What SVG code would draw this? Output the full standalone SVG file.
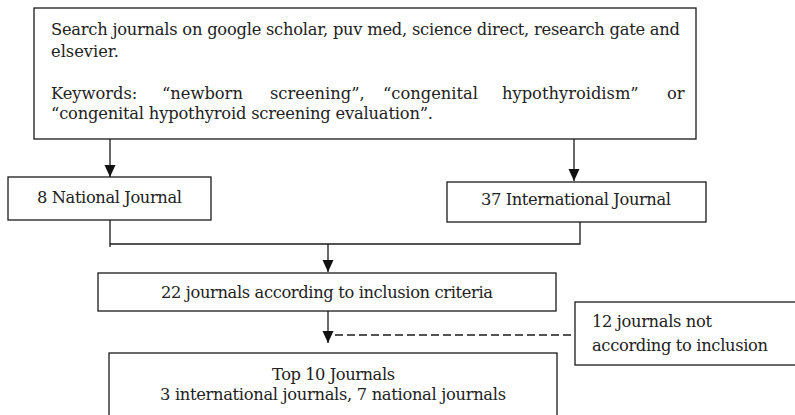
<svg xmlns="http://www.w3.org/2000/svg" width="795" height="415" viewBox="0 0 795 415">
<defs>
<style>
.box{fill:#fff;stroke:#1a1a1a;stroke-width:1.3}
.t{font-family:"DejaVu Serif","Liberation Serif",serif;font-size:16.3px;fill:#222}
.c{text-anchor:middle}
.ln{fill:none;stroke:#1a1a1a;stroke-width:1.3}
.dash{fill:none;stroke:#1a1a1a;stroke-width:1.3;stroke-dasharray:8 4}
</style>
<marker id="ah" markerUnits="userSpaceOnUse" markerWidth="12" markerHeight="12" refX="12" refY="5.5" orient="auto">
<path d="M0,0 L12,5.5 L0,11 Z" fill="#111"/>
</marker>
</defs>
<rect width="795" height="415" fill="#fff"/>
<g id="search">
<rect class="box" x="34" y="8" width="662" height="131"/>
<text class="t" x="51" y="35" textLength="629" lengthAdjust="spacing">Search journals on google scholar, puv med, science direct, research gate and</text>
<text class="t" x="51" y="57">elsevier.</text>
<text class="t" y="99"><tspan x="51">Keywords:</tspan><tspan x="162">“newborn</tspan><tspan x="270">screening”,</tspan><tspan x="383">“congenital</tspan><tspan x="502">hypothyroidism”</tspan><tspan x="667">or</tspan></text>
<text class="t" x="51" y="119" textLength="382" lengthAdjust="spacing">“congenital hypothyroid screening evaluation”.</text>
</g>
<g id="national">
<rect class="box" x="8" y="177" width="203" height="43"/>
<text class="t c" x="109.5" y="203" textLength="145" lengthAdjust="spacing">8 National Journal</text>
</g>
<g id="international">
<rect class="box" x="447" y="182" width="259" height="40"/>
<text class="t c" x="576" y="205" textLength="190" lengthAdjust="spacing">37 International Journal</text>
</g>
<g id="inclusion">
<rect class="box" x="98" y="273" width="458" height="38"/>
<text class="t c" x="327" y="298" textLength="332" lengthAdjust="spacing">22 journals according to inclusion criteria</text>
</g>
<g id="excluded">
<rect class="box" x="575" y="302" width="230" height="63"/>
<text class="t" x="592" y="327" textLength="120" lengthAdjust="spacing">12 journals not</text>
<text class="t" x="592" y="351" textLength="176" lengthAdjust="spacing">according to inclusion</text>
</g>
<g id="top10">
<rect class="box" x="109" y="353" width="448" height="80"/>
<text class="t c" x="333.5" y="380" textLength="123" lengthAdjust="spacing">Top 10 Journals</text>
<text class="t c" x="333" y="400" textLength="346" lengthAdjust="spacing">3 international journals, 7 national journals</text>
</g>
<g id="connectors">
<path class="ln" d="M110,139 V177" marker-end="url(#ah)"/>
<path class="ln" d="M574,139 V181" marker-end="url(#ah)"/>
<path class="ln" d="M110,220 V247"/>
<path class="ln" d="M110,244 H580 V222"/>
<path class="ln" d="M328,244 V272" marker-end="url(#ah)"/>
<path class="ln" d="M328,311 V343" marker-end="url(#ah)"/>
<path class="dash" d="M335,335 H575"/>
</g>
</svg>
